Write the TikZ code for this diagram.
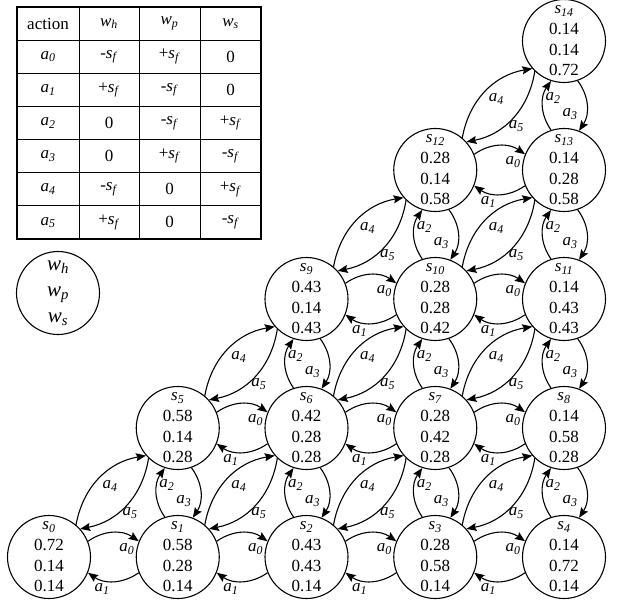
\documentclass[tikz,border=0pt]{standalone}
\usepackage{fontspec}
\setmainfont{Liberation Serif}
\usetikzlibrary{arrows.meta}
\newcommand{\mysub}[2]{\textit{#1}\textsubscript{\textit{#2}}}
\newcommand{\mnsf}{-\mysub{s}{f}}
\newcommand{\plsf}{+\mysub{s}{f}}
\begin{document}
\begin{tikzpicture}[x=1pt,y=1pt,
  state/.style={circle,draw,line width=1.1pt,minimum size=83pt,inner sep=0pt,align=center,
    font=\fontsize{17}{20.7}\selectfont},
  legend/.style={circle,draw,line width=1.1pt,minimum size=83pt,inner sep=0pt,align=center,
    font=\fontsize{21}{26}\selectfont},
  arr/.style={line width=1.1pt,-{Stealth[length=10pt,width=8pt,inset=1.5pt]}},
  lbl/.style={font=\fontsize{17}{20}\selectfont,inner sep=0pt},
  cell/.style={font=\fontsize{17}{20}\selectfont,inner sep=0pt},
  tblout/.style={line width=1.2pt},
  tblin/.style={line width=0.9pt}]
\useasboundingbox (0,0) rectangle (617,603);

% ---------- table ----------
\draw[tblout] (17,364) rectangle (261,596);
\foreach \x in {79,139,200} \draw[tblin] (\x,364) -- (\x,596);
\foreach \k in {1,...,6} \draw[tblin] (17,{596-33.14*\k}) -- (261,{596-33.14*\k});
\foreach [count=\r from 0] \ca/\cb/\cc/\cd in {
  action/\mysub{w}{h}/\mysub{w}{p}/\mysub{w}{s},
  \mysub{a}{0}/\mnsf/\plsf/0,
  \mysub{a}{1}/\plsf/\mnsf/0,
  \mysub{a}{2}/0/\mnsf/\plsf,
  \mysub{a}{3}/0/\plsf/\mnsf,
  \mysub{a}{4}/\mnsf/0/\plsf,
  \mysub{a}{5}/\plsf/0/\mnsf}{
  \node[cell] (t\r-1) at (48,{596-16.57-33.14*\r}) {\ca};
  \node[cell] (t\r-2) at (109,{596-16.57-33.14*\r}) {\cb};
  \node[cell] (t\r-3) at (169.5,{596-16.57-33.14*\r}) {\cc};
  \node[cell] (t\r-4) at (230.5,{596-16.57-33.14*\r}) {\cd};
}

% ---------- legend ----------
\node[legend] (leg) at (58,310) {\mysub{w}{h}\\\mysub{w}{p}\\\mysub{w}{s}};

% ---------- states ----------
\node[state] (s0) at (49,46) {\mysub{s}{0}\\0.72\\0.14\\0.14};
\node[state] (s1) at (177.75,46) {\mysub{s}{1}\\0.58\\0.28\\0.14};
\node[state] (s2) at (306.5,46) {\mysub{s}{2}\\0.43\\0.43\\0.14};
\node[state] (s3) at (435.25,46) {\mysub{s}{3}\\0.28\\0.58\\0.14};
\node[state] (s4) at (564,46) {\mysub{s}{4}\\0.14\\0.72\\0.14};
\node[state] (s5) at (177.75,175) {\mysub{s}{5}\\0.58\\0.14\\0.28};
\node[state] (s6) at (306.5,175) {\mysub{s}{6}\\0.42\\0.28\\0.28};
\node[state] (s7) at (435.25,175) {\mysub{s}{7}\\0.28\\0.42\\0.28};
\node[state] (s8) at (564,175) {\mysub{s}{8}\\0.14\\0.58\\0.28};
\node[state] (s9) at (306.5,304) {\mysub{s}{9}\\0.43\\0.14\\0.43};
\node[state] (s10) at (435.25,304) {\mysub{s}{10}\\0.28\\0.28\\0.42};
\node[state] (s11) at (564,304) {\mysub{s}{11}\\0.14\\0.43\\0.43};
\node[state] (s12) at (435.25,433) {\mysub{s}{12}\\0.28\\0.14\\0.58};
\node[state] (s13) at (564,433) {\mysub{s}{13}\\0.14\\0.28\\0.58};
\node[state] (s14) at (564,562) {\mysub{s}{14}\\0.14\\0.14\\0.72};

% ---------- horizontal: a0 / a1 ----------
\foreach \l/\r in {s0/s1,s1/s2,s2/s3,s3/s4,s5/s6,s6/s7,s7/s8,s9/s10,s10/s11,s12/s13}{
  \draw[arr] (\l.22) to[bend left=35] (\r.158);
  \draw[arr] (\r.202) to[bend left=35] (\l.338);
  \node[lbl] (h0\l\r) at ([shift={(-51,8)}]\r.center) {\mysub{a}{0}};
  \node[lbl] (h1\l\r) at ([shift={(53,-32)}]\l.center) {\mysub{a}{1}};
}

% ---------- vertical: a2 / a3 ----------
\foreach \b/\u in {s1/s5,s2/s6,s6/s9,s3/s7,s7/s10,s10/s12,s4/s8,s8/s11,s11/s13,s13/s14}{
  \draw[arr] (\b.108) to[bend left=35] (\u.252);
  \draw[arr] (\u.289) to[bend left=35] (\b.69);
  \node[lbl] (v2\b\u) at ([shift={(-11,72)}]\b.center) {\mysub{a}{2}};
  \node[lbl] (v3\b\u) at ([shift={(6,56)}]\b.center) {\mysub{a}{3}};
}

% ---------- diagonal: a4 / a5 ----------
\foreach \b/\u in {s0/s5,s1/s6,s2/s7,s3/s8,s5/s9,s6/s10,s7/s11,s9/s12,s10/s13,s12/s14}{
  \draw[arr] (\b.50) to[bend left=35] (\u.221);
  \draw[arr] (\u.226) to[bend left=35] (\b.42);
  \node[lbl] (d4\b\u) at ([shift={(61,71)}]\b.center) {\mysub{a}{4}};
  \node[lbl] (d5\b\u) at ([shift={(81,44)}]\b.center) {\mysub{a}{5}};
}
\end{tikzpicture}
\end{document}
